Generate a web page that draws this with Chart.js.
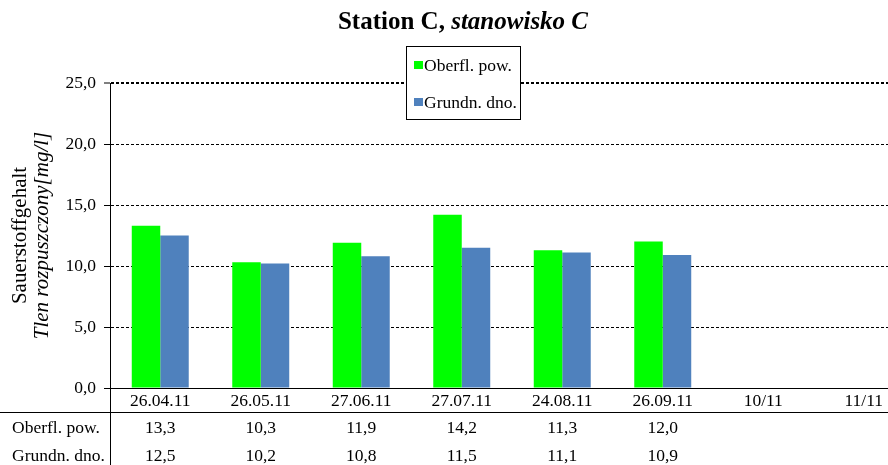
<!DOCTYPE html>
<html>
<head>
<meta charset="utf-8">
<script src="https://cdn.jsdelivr.net/npm/chart.js@4"></script>
<style>
html,body{margin:0;padding:0;background:#fff;overflow:hidden;}
#wrap{width:888px;height:465px;overflow:hidden;position:relative;}
canvas{display:block;}
</style>
</head>
<body>
<div id="wrap"><canvas id="c" width="914" height="465"></canvas></div>
<script>
const categories = ['26.04.11','26.05.11','27.06.11','27.07.11','24.08.11','26.09.11','10/11','11/11'];
const surfaceLabel = 'Oberfl. pow.';
const bottomLabel = 'Grundn. dno.';
const surfaceValues = [13.3, 10.3, 11.9, 14.2, 11.3, 12.0, null, null];
const bottomValues = [12.5, 10.2, 10.8, 11.5, 11.1, 10.9, null, null];
const titleMain = 'Station C, ';
const titleItalic = 'stanowisko C';
const yTitleLine1 = 'Sauerstoffgehalt';
const yTitleLine2 = 'Tlen rozpuszczony[mg/l]';

const SERIF = "'Liberation Serif','Times New Roman',serif";
const SMALL = 17.5;
const fmt = v => (v === null || v === undefined) ? '' : v.toFixed(1).replace('.', ',');

const extras = {
  id: 'extras',
  afterDraw(chart) {
    const ctx = chart.ctx;
    const area = chart.chartArea;
    const xs = chart.scales.x;
    ctx.save();
    // title
    ctx.fillStyle = '#000';
    ctx.textBaseline = 'alphabetic';
    ctx.font = "bold 25px " + SERIF;
    const w1 = ctx.measureText(titleMain).width;
    ctx.font = "italic bold 25px " + SERIF;
    const w2 = ctx.measureText(titleItalic).width;
    let tx = 463 - (w1 + w2) / 2;
    ctx.textAlign = 'left';
    ctx.font = "bold 25px " + SERIF;
    ctx.fillText(titleMain, tx, 29);
    ctx.font = "italic bold 25px " + SERIF;
    ctx.fillText(titleItalic, tx + w1, 29);

    // y-axis title
    ctx.textBaseline = 'middle';
    const cy = (area.top + area.bottom) / 2;
    ctx.save();
    ctx.translate(20, cy);
    ctx.rotate(-Math.PI / 2);
    ctx.textAlign = 'center';
    ctx.font = "21px " + SERIF;
    ctx.fillText(yTitleLine1, 0, 0);
    ctx.restore();
    ctx.save();
    ctx.translate(42, cy);
    ctx.rotate(-Math.PI / 2);
    ctx.textAlign = 'center';
    ctx.font = "italic 21px " + SERIF;
    ctx.fillText(yTitleLine2, 0, 0);
    ctx.restore();

    // data table lines
    ctx.strokeStyle = '#000';
    ctx.lineWidth = 1;
    ctx.beginPath();
    ctx.moveTo(0, 412.5);
    ctx.lineTo(chart.width, 412.5);
    ctx.moveTo(area.left + 0.5, area.bottom);
    ctx.lineTo(area.left + 0.5, chart.height);
    ctx.stroke();

    // data table text
    ctx.textBaseline = 'alphabetic';
    ctx.font = SMALL + "px " + SERIF;
    const rows = chart.data.datasets;
    const rowY = [433, 461];
    rows.forEach((ds, r) => {
      ctx.textAlign = 'left';
      ctx.fillText(ds.label, 12, rowY[r]);
      ctx.textAlign = 'center';
      ds.data.forEach((v, i) => {
        ctx.fillText(fmt(v), xs.getPixelForValue(i), rowY[r]);
      });
    });

    // legend
    const lx = 406.5, ly = 46.5, lw = 114, lh = 73;
    ctx.fillStyle = '#fff';
    ctx.fillRect(lx, ly, lw, lh);
    ctx.strokeStyle = '#000';
    ctx.strokeRect(lx, ly, lw, lh);
    const itemY = [71, 108];
    rows.forEach((ds, r) => {
      ctx.fillStyle = ds.backgroundColor;
      ctx.fillRect(414, itemY[r] - 10, 9, 8);
      ctx.fillStyle = '#000';
      ctx.textAlign = 'left';
      ctx.font = SMALL + "px " + SERIF;
      ctx.fillText(ds.label, 424, itemY[r]);
    });
    ctx.restore();
  }
};

new Chart(document.getElementById('c'), {
  type: 'bar',
  data: {
    labels: categories,
    datasets: [
      { label: surfaceLabel, data: surfaceValues, backgroundColor: '#00FF00', borderWidth: 0 },
      { label: bottomLabel, data: bottomValues, backgroundColor: '#4F81BD', borderWidth: 0 }
    ]
  },
  options: {
    responsive: false,
    animation: false,
    devicePixelRatio: 1,
    layout: { padding: { top: 83, right: 0, left: 0, bottom: 0 } },
    categoryPercentage: 0.567,
    barPercentage: 1.0,
    plugins: {
      legend: { display: false },
      title: { display: false },
      tooltip: { enabled: false }
    },
    scales: {
      x: {
        offset: true,
        grid: { display: false, drawTicks: false },
        border: { display: true, color: '#000', width: 1 },
        ticks: {
          color: '#000',
          font: { family: SERIF, size: SMALL },
          padding: 3,
          maxRotation: 0,
          autoSkip: false
        },
        afterFit(scale) { scale.height = 77; }
      },
      y: {
        min: 0,
        max: 25,
        grid: {
          color: '#000',
          lineWidth: ctx => (ctx.tick && ctx.tick.value === 25) ? 2 : 1,
          drawTicks: true,
          tickLength: 6,
          tickColor: '#000',
          tickWidth: 1,
          tickBorderDash: [1, 0]
        },
        border: { display: true, color: '#000', width: 1, dash: [3, 2] },
        ticks: {
          stepSize: 5,
          color: '#000',
          font: { family: SERIF, size: SMALL },
          padding: 8,
          callback: v => fmt(v)
        },
        afterFit(scale) { scale.width = 110; }
      }
    }
  },
  plugins: [extras]
});
</script>
</body>
</html>
